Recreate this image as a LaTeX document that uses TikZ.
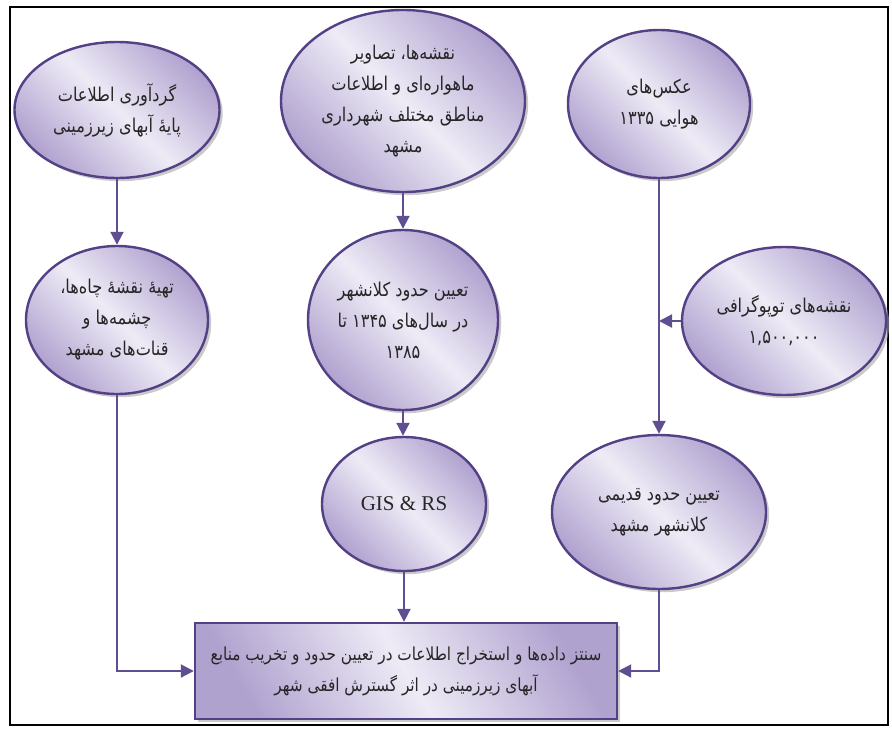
\documentclass[tikz,border=0pt]{standalone}
\usepackage{fontspec}
\usepackage{xcolor}
\usepackage{tikz}
\usetikzlibrary{positioning}
\usetikzlibrary{shapes.geometric}
\usetikzlibrary{shadows}
\usetikzlibrary{arrows.meta}

\newfontfamily\farsifont[Script=Arabic,FakeStretch=0.85]{DejaVu Sans}
\newfontfamily\latinfont{Liberation Serif}
\TeXXeTstate=1
\newcommand{\rtlline}[1]{\beginR #1\endR}

\definecolor{NodeEdge}{RGB}{84,64,132}
\definecolor{NodeDark}{RGB}{176,162,207}
\definecolor{NodeLight}{RGB}{238,235,246}
\definecolor{FlowViolet}{RGB}{96,78,146}

\begin{document}
\begin{tikzpicture}[x=0.5pt,y=-0.5pt,
    stage/.style={shape=ellipse, draw=NodeEdge, line width=1.2pt,
      top color=NodeDark, bottom color=NodeDark, middle color=NodeLight, shading angle=-45,
      drop shadow={shadow xshift=1.6pt, shadow yshift=-1.6pt, fill=black!35, opacity=.6},
      inner sep=-6pt, align=center, text=black!85, font=\farsifont\fontsize{9.5}{15.5}\selectfont},
    synth/.style={shape=rectangle, draw=NodeEdge, line width=1.2pt,
      top color=NodeDark, bottom color=NodeDark, middle color=NodeLight, shading angle=-60,
      drop shadow={shadow xshift=1.6pt, shadow yshift=-1.6pt, fill=black!35, opacity=.6},
      inner sep=0pt, align=center, text=black!85, font=\farsifont\fontsize{9}{15.5}\selectfont},
    flow/.style={draw=FlowViolet, line width=1pt, -{Triangle[width=6.5pt,length=6.5pt]}}]

  % frame
  \useasboundingbox (0,0) rectangle (892,728);
  \draw [black, line width=1.4pt] (10,7) rectangle (888,725);

  % sources
  \node[stage, minimum width=102.5pt, minimum height=68pt] (GatherData) at (117,110)
    {\rtlline{گردآوری اطلاعات}\\\rtlline{پایه^^^^0654 آبهای زیرزمینی}};
  \node[stage, minimum width=122pt, minimum height=91pt] (MapsImages) at (403,101)
    {\rtlline{نقشه^^^^200cها، تصاویر}\\\rtlline{ماهواره^^^^200cای و اطلاعات}\\\rtlline{مناطق مختلف شهرداری}\\\rtlline{مشهد}};
  \node[stage, minimum width=91pt, minimum height=74pt] (AirPhotos) at (659,104)
    {\rtlline{عکس^^^^200cهای}\\\rtlline{هوایی ۱۳۳۵}};

  % second row
  \node[stage, minimum width=91pt, minimum height=74pt] (WellMap) at (117,320)
    {\rtlline{تهیه^^^^0654 نقشه^^^^0654 چاه^^^^200cها،}\\\rtlline{چشمه^^^^200cها و}\\\rtlline{قنات^^^^200cهای مشهد}};
  \node[stage, minimum width=95pt, minimum height=90pt] (CityLimits) at (403,320)
    {\rtlline{تعیین حدود کلانشهر}\\\rtlline{در سال^^^^200cهای ۱۳۴۵ تا}\\\rtlline{۱۳۸۵}};
  \node[stage, minimum width=102pt, minimum height=74pt] (TopoMaps) at (784,321)
    {\rtlline{نقشه^^^^200cهای توپوگرافی}\\\rtlline{۱,۵۰۰,۰۰۰}};

  % third row
  \node[stage, minimum width=82pt, minimum height=67pt, font=\latinfont\fontsize{10.5}{12}\selectfont] (GisRs) at (404,504)
    {GIS \& RS};
  \node[stage, minimum width=107pt, minimum height=77pt] (OldLimits) at (659,512)
    {\rtlline{تعیین حدود قدیمی}\\\rtlline{کلانشهر مشهد}};

  % result
  \node[synth, minimum width=211pt, minimum height=48pt] (Synthesis) at (406,671)
    {\rtlline{سنتز داده^^^^200cها و استخراج اطلاعات در تعیین حدود و تخریب منابع}\\\rtlline{آبهای زیرزمینی در اثر گسترش افقی شهر}};

  % connectors
  \draw[flow] (GatherData) -- (WellMap);
  \draw[flow] (MapsImages) -- (CityLimits);
  \draw[flow] (CityLimits) -- (CityLimits |- GisRs.north);
  \draw[flow] (GisRs.south) -- (GisRs.south |- Synthesis.north);
  \draw[flow] (AirPhotos) -- (OldLimits);
  \draw[flow] (TopoMaps.west) -- (TopoMaps.west -| AirPhotos.south);
  \draw[flow] (WellMap.south) |- (Synthesis.west);
  \draw[flow] (OldLimits.south) |- (Synthesis.east);

\end{tikzpicture}
\end{document}
